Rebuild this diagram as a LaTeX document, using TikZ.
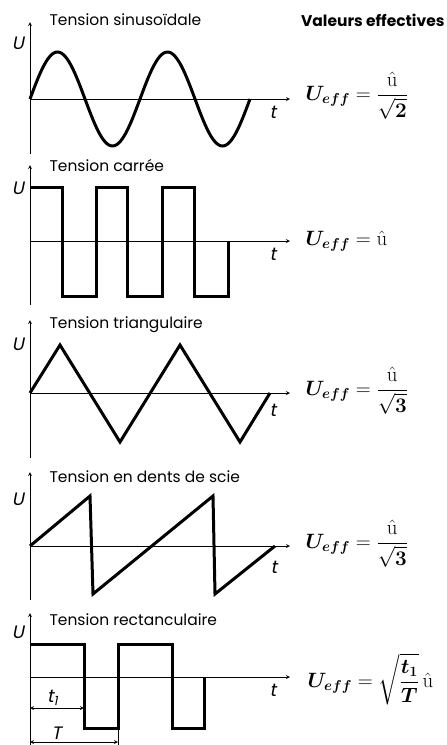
\documentclass[tikz,border=0pt]{standalone}
\usepackage{amsmath,amssymb}
\usepackage[no-math]{fontspec}
\usepackage{tikz}
\usetikzlibrary{arrows, positioning, calc}
\newfontfamily\popfont{Poppins}[AutoFakeSlant=0.2]

\begin{document}
\begin{tikzpicture}[
        x=1pt, y=-1pt,
        axis/.style={->, line width=0.8pt},
        wave/.style={line width=3pt, line join=miter},
        dim/.style={<->, line width=0.8pt},
        title/.style={anchor=west, font=\popfont\fontsize{15.5}{18}\selectfont},
        lab/.style={inner sep=1pt, font=\popfont\itshape\fontsize{18}{20}\selectfont},
        formula/.style={anchor=west, font=\fontsize{21}{24}\selectfont},
        >=stealth
    ]
    \useasboundingbox (0,0) rectangle (447,745);

    \node (val) [anchor=east, font=\popfont\bfseries\fontsize{15.5}{18}\selectfont] at (448,20) {Valeurs effectives};

    \begin{scope}[shift={(30,99)}]
    \draw[axis] (0,55) -- (0,-77);
    \draw[axis] (0,0) -- (260,0);
    \draw[wave] plot[domain=0:220, samples=120, smooth] (\x, {-47*sin(\x/110*360)});
    \node (sin) [title] at (16,-79) {Tension sinusoïdale};
    \node (u1) [lab] at (-12,-56) {U};
    \node (t1) [lab] at (243,13) {t};
    \node (f1) [formula] at (272,-3) {$\displaystyle\boldsymbol{U_{eff}} = \frac{\hat{\mathrm{u}}}{\sqrt{\mathbf{2}}}$};
    \end{scope}

    \begin{scope}[shift={(30,241)}]
    \draw[axis] (0,64) -- (0,-76);
    \draw[axis] (0,0) -- (260,0);
    \draw[wave] (0,-54) -- (32,-54) -- (32,55) -- (66,55) -- (66,-54) -- (97,-54) -- (97,55) -- (132,55)
        -- (132,-54) -- (164,-54) -- (164,55) -- (198,55) -- (198,0);
    \node (sq) [title] at (16,-75) {Tension carrée};
    \node (u2) [lab] at (-12,-53) {U};
    \node (t2) [lab] at (243,13) {t};
    \node (f2) [formula] at (272,0) {$\displaystyle\boldsymbol{U_{eff}} = \hat{\mathrm{u}}$};
    \end{scope}

    \begin{scope}[shift={(30,393)}]
    \draw[axis] (0,65) -- (0,-73);
    \draw[axis] (0,0) -- (260,0);
    \draw[wave] (0,0) -- (30,-48) -- (90,49) -- (150,-48) -- (210,49) -- (240,0);
    \node (tri) [title] at (16,-68) {Tension triangulaire};
    \node (u3) [lab] at (-12,-49) {U};
    \node (t3) [lab] at (243,17) {t};
    \node (f3) [formula] at (272,-2) {$\displaystyle\boldsymbol{U_{eff}} = \frac{\hat{\mathrm{u}}}{\sqrt{\mathbf{3}}}$};
    \end{scope}

    \begin{scope}[shift={(30,546)}]
    \draw[axis] (0,54) -- (0,-74);
    \draw[axis] (0,0) -- (260,0);
    \draw[wave] (0,0) -- (60,-50) -- (63,48) -- (183,-50) -- (185,48) -- (245,0);
    \node (saw) [title] at (16,-69) {Tension en dents de scie};
    \node (u4) [lab] at (-12,-47) {U};
    \node (t4) [lab] at (244,21) {t};
    \node (f4) [formula] at (272,-2) {$\displaystyle\boldsymbol{U_{eff}} = \frac{\hat{\mathrm{u}}}{\sqrt{\mathbf{3}}}$};
    \end{scope}

    \begin{scope}[shift={(30,677)}]
    \draw[axis] (0,68) -- (0,-64);
    \draw[axis] (0,0) -- (260,0);
    \draw[wave] (0,-33) -- (54,-33) -- (54,51) -- (88,51) -- (88,-33) -- (142,-33) -- (142,51) -- (174,51) -- (174,0);
    \node (rect) [title] at (16,-57) {Tension rectanculaire};
    \node (u5) [lab] at (-12,-45) {U};
    \node (t5) [lab] at (243,13) {t};
    \node (f5) [formula] at (274,2) {$\displaystyle\boldsymbol{U_{eff}} = \sqrt{\frac{\boldsymbol{t_1}}{\boldsymbol{T}}}\,\hat{\mathrm{u}}$};
    \coordinate (t1a) at (0,31);
    \coordinate (t1b) at (54,31);
    \coordinate (Ta) at (0,65);
    \coordinate (Tb) at (88,65);
    \draw[dim] (t1a) -- (t1b);
    \draw[dim] (Ta) -- (Tb);
    \draw[line width=0.8pt] (88,51) -- (88,68);
    \node (lt1) [lab, above=1pt of $(t1a)!0.42!(t1b)$] {t\textsubscript{1}};
    \node (lT) [lab, above=1pt of $(Ta)!0.3!(Tb)$] {T};
    \end{scope}

\end{tikzpicture}
\end{document}
